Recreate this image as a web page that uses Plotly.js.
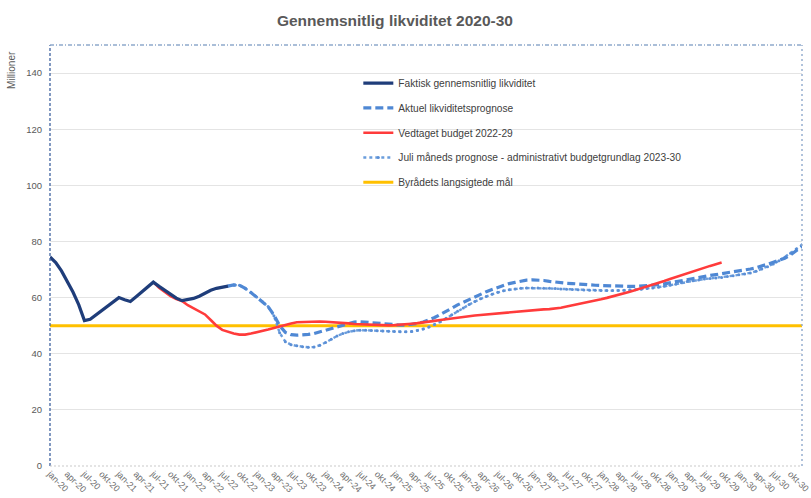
<!DOCTYPE html>
<html>
<head>
<meta charset="utf-8">
<script src="https://cdn.plot.ly/plotly-3.0.1.min.js"></script>
<style>html,body{margin:0;padding:0;background:#fff}#chart{width:811px;height:498px}</style>
</head>
<body>
<div id="chart"></div>
<script>
// Month category labels (jan-20 ... dec-30)
const monthNames = ["jan","feb","mar","apr","maj","jun","jul","aug","sep","okt","nov","dec"];
const years = ["20","21","22","23","24","25","26","27","28","29","30"];
const months = [];
years.forEach(y => monthNames.forEach(m => months.push(m + "-" + y)));

// Faktisk gennemsnitlig likviditet: jan-20 .. aug-22
const faktiskStart = 0;
const faktisk = [74.5,72.5,69.5,66,62,57.5,51.8,52.3,53.8,55.3,56.8,58.3,60,59.2,58.6,60.3,62,63.8,65.5,64,62.5,61,59.8,58.9,59.2,59.7,60.5,61.6,62.6,63.3,63.8,64.1];

// Aktuel likviditetsprognose: aug-22 .. dec-30
const aktuelStart = 31;
const aktuel = [64.1,64.5,64.4,63.3,61.8,60.2,58.5,56.8,53.8,50,47.6,46.8,46.6,46.7,46.9,47.2,47.8,48.4,49,49.6,
50.2,50.8,51.3,51.4,51.2,51,50.8,50.6,50.4,50.3,50.2,50.2,50.4,50.8,51.3,52,52.9,54,55,56.2,
57.4,58.4,59.4,60.3,61.2,62.1,62.9,63.7,64.4,65,65.4,65.9,66.2,66.3,66.3,66.1,65.8,65.5,65.3,65.1,
65,64.8,64.7,64.6,64.4,64.3,64.2,64.1,64,64,64,64,64.1,64.2,64.4,64.6,64.9,65.3,65.7,66.1,
66.5,66.9,67.2,67.5,67.9,68.2,68.5,68.8,69.1,69.4,69.8,70.2,70.6,71.2,71.9,72.6,73.3,74,75.2,76.6,
78.2,79.8];

// Vedtaget budget 2022-29: jul-21 .. okt-29
const budgetStart = 18;
const budget = [65.5,63.5,62,60.5,59.5,58.8,57.3,56.2,55.3,54,52,50,48.5,47.8,47.2,46.8,46.8,47.2,47.6,48,
48.6,49.2,49.8,50.3,50.8,51.2,51.3,51.4,51.5,51.5,51.4,51.3,51.1,51,50.8,50.6,50.5,50.4,50.3,50.2,
50.1,50.1,50.2,50.3,50.5,50.7,50.9,51.1,51.4,51.7,52,52.3,52.6,52.9,53.2,53.4,53.6,53.8,54,54.2,
54.4,54.6,54.8,55,55.2,55.4,55.6,55.7,55.8,55.9,56.1,56.4,56.8,57.2,57.6,58,58.5,58.9,59.4,59.9,
60.4,60.9,61.5,62.1,62.7,63.3,63.9,64.5,65.2,65.9,66.6,67.3,68,68.7,69.4,70,70.7,71.3,71.9,72.5];

// Juli måneds prognose - administrativt budgetgrundlag 2023-30: aug-22 .. dec-30
const juliStart = 31;
const juli = [64.1,64.5,64.4,63.3,61.8,60.2,58.5,56.8,53.5,47.5,44.3,43.2,42.8,42.5,42.3,42.4,43,44,45.2,46.3,
47.2,47.8,48.2,48.4,48.4,48.3,48.2,48.1,48,47.9,47.8,47.8,47.9,48.3,48.8,49.5,50.4,51.4,52.6,53.9,
55.1,56.3,57.5,58.6,59.6,60.4,61.2,61.9,62.4,62.8,63.1,63.3,63.4,63.4,63.4,63.3,63.3,63.2,63.1,63,
62.9,62.8,62.7,62.6,62.6,62.5,62.5,62.5,62.5,62.6,62.7,62.8,63,63.2,63.4,63.7,64,64.4,64.8,65.3,
65.7,66,66.3,66.6,66.8,67,67.2,67.5,67.8,68.1,68.4,68.8,69.4,70.2,71,72,73.1,74.4,75.8,77.3,
78.8];

// Byrådets langsigtede mål
const maal = 50;

const xs = (start, arr) => months.slice(start, start + arr.length);

const tFaktisk = {name: "Faktisk gennemsnitlig likviditet", x: xs(faktiskStart, faktisk), y: faktisk, mode: "lines",
   line: {color: "#1f3d7a", width: 3.2}, legendgroup: "g1", legendrank: 1};
const tAktuel = {name: "Aktuel likviditetsprognose", x: xs(aktuelStart, aktuel), y: aktuel, mode: "lines",
   line: {color: "#4f88d4", width: 3.2, dash: "8px,4px"}, legendgroup: "g2", legendrank: 2};
const tBudget = {name: "Vedtaget budget 2022-29", x: xs(budgetStart, budget), y: budget, mode: "lines",
   line: {color: "#ff3b3b", width: 2.6}, legendgroup: "g3", legendrank: 3};
const tJuli = {name: "Juli måneds prognose - administrativt budgetgrundlag 2023-30", x: xs(juliStart, juli), y: juli, mode: "lines+markers",
   line: {color: "#6a9ddc", width: 2.4, dash: "dot"}, marker: {size: 3, color: "#5b8fd6"}, legendgroup: "g4", legendrank: 4};
const tMaal = {name: "Byrådets langsigtede mål", x: months, y: months.map(() => maal), mode: "lines",
   line: {color: "#ffc000", width: 3}, legendgroup: "g5", legendrank: 5};

// drawing order (goal line underneath)
const traces = [tMaal, tJuli, tAktuel, tBudget, tFaktisk];

const layout = {
  width: 811, height: 498,
  margin: {l: 50, r: 9, t: 45, b: 32},
  paper_bgcolor: "#ffffff", plot_bgcolor: "#ffffff",
  font: {family: "Liberation Sans, Arial, sans-serif", color: "#595959"},
  title: {text: "Gennemsnitlig likviditet 2020-30", font: {size: 15.5, color: "#595959", family: "Liberation Sans, Arial, sans-serif", weight: "bold"},
          x: 0.487, xref: "container", xanchor: "center", y: 0.958, yref: "container", yanchor: "middle"},
  xaxis: {type: "category", categoryorder: "array", categoryarray: months, range: [0, months.length - 1],
          tickmode: "linear", tick0: 0, dtick: 3, tickangle: 45, tickfont: {size: 9, color: "#6f6f6f"},
          showgrid: false, zeroline: false, showline: false, ticks: "", fixedrange: true},
  yaxis: {range: [0, 150], tickvals: [0,20,40,60,80,100,120,140], tickfont: {size: 9.5, color: "#595959"},
          showgrid: true, gridcolor: "#e4e4e4", gridwidth: 1, zeroline: false, showline: false, ticks: "", ticklabelstandoff: 7},
  showlegend: true,
  legend: {x: 0.41, y: 0.944, xanchor: "left", yanchor: "top", bgcolor: "rgba(255,255,255,0)",
           font: {size: 10.2, color: "#404040"}, tracegroupgap: 5.8, traceorder: "grouped", itemwidth: 30},
  shapes: [
    {type: "line", xref: "paper", yref: "paper", x0: 0, x1: 0, y0: 0, y1: 1, line: {color: "#3f63a0", width: 1.3, dash: "3px,2px"}},
    {type: "line", xref: "paper", yref: "paper", x0: 0, x1: 1, y0: 1, y1: 1, line: {color: "#8fa9cc", width: 1.4, dash: "4px,2px,1px,2px"}},
    {type: "line", xref: "paper", yref: "paper", x0: 1, x1: 1, y0: 0, y1: 1, line: {color: "#8fa9cc", width: 1.4, dash: "2px,3px"}},
    {type: "line", xref: "paper", yref: "paper", x0: 0, x1: 1, y0: 0, y1: 0, line: {color: "#c9c9c9", width: 1.2, dash: "2px,2px"}}
  ],
  annotations: [
    {text: "Millioner", xref: "paper", yref: "paper", x: -0.051, y: 0.94, xanchor: "center", yanchor: "middle",
     textangle: -90, showarrow: false, font: {size: 10, color: "#595959"}}
  ]
};

Plotly.newPlot("chart", traces, layout, {displayModeBar: false, staticPlot: true});
</script>
</body>
</html>
